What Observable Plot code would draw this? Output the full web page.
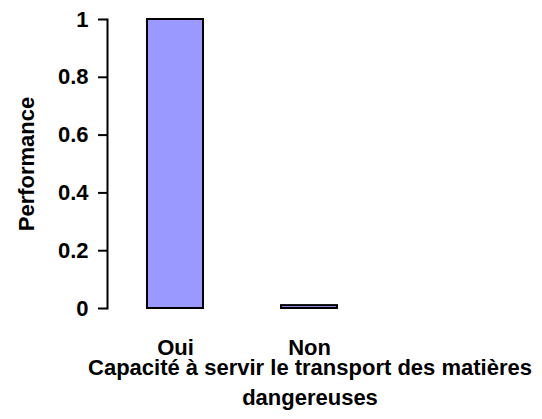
<!DOCTYPE html>
<html>
<head>
<meta charset="utf-8">
<script src="https://cdn.jsdelivr.net/npm/d3@7"></script>
<script src="https://cdn.jsdelivr.net/npm/@observablehq/plot@0.6"></script>
<style>
  body { margin: 0; background: #fff; font-family: "Liberation Sans", Arial, sans-serif; }
  #title { width: 464px; padding-left: 78px; text-align: center; font-weight: bold; font-size: 22px; line-height: 30px; margin-top: -8px; color: #000; }
</style>
</head>
<body>
<div id="chart"></div>
<div id="title"></div>
<script>
const categories = ["Oui", "Non"];
const values = [1, 0.01];
const yTicks = [0, 0.2, 0.4, 0.6, 0.8, 1];
const yLabel = "Performance";
const xLabel = "Capacité à servir le transport des matières dangereuses";

const data = categories.map((c, i) => ({cat: c, val: values[i]}));

const chart = Plot.plot({
  width: 542,
  height: 361,
  marginLeft: 107,
  marginRight: 165,
  marginTop: 19,
  marginBottom: 53,
  style: {fontFamily: '"Liberation Sans", Arial, sans-serif', fontSize: "22px", fontWeight: "bold", color: "#000", background: "#fff"},
  x: {domain: categories, paddingInner: 0.584, paddingOuter: 0.297},
  y: {domain: [0, 1]},
  marks: [
    Plot.barY(data, {x: "cat", y: "val", fill: "#9999ff", stroke: "#000", strokeWidth: 2}),
    Plot.frame({anchor: "left", strokeWidth: 2}),
    Plot.axisY({ticks: yTicks, tickFormat: d => String(d), tickSize: 9, tickPadding: 10, strokeWidth: 2,
      label: yLabel, labelAnchor: "center", labelArrow: "none", labelOffset: 89}),
    Plot.axisX({tickSize: 0, tickPadding: 31, label: null})
  ]
});
document.getElementById("chart").appendChild(chart);
document.getElementById("title").textContent = xLabel;
</script>
</body>
</html>
